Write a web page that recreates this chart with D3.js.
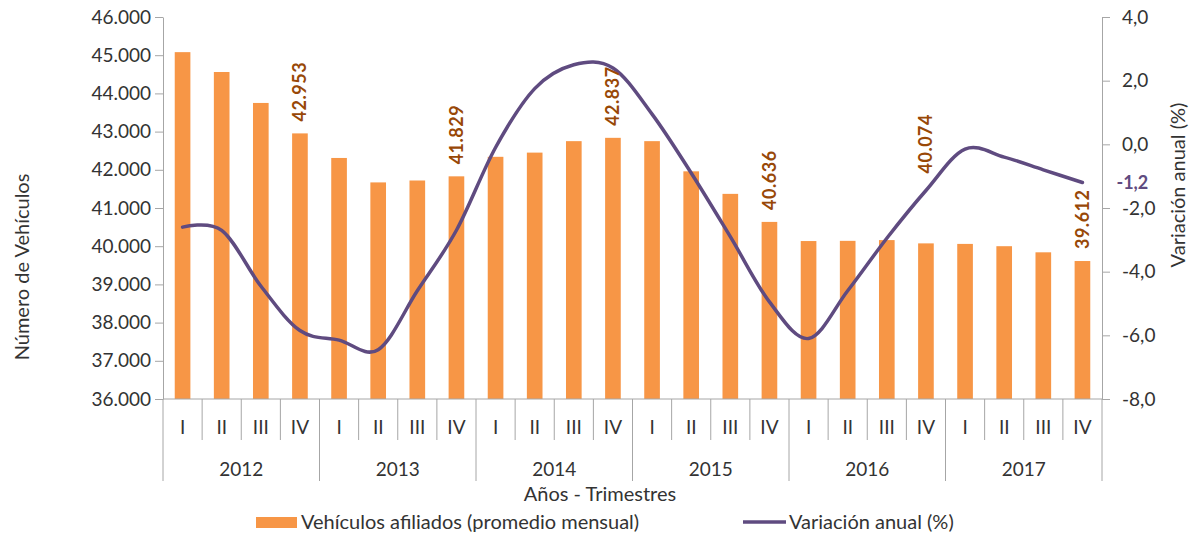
<!DOCTYPE html>
<html><head><meta charset="utf-8">
<script src="https://cdn.jsdelivr.net/npm/d3@7"></script>
<style>
body{margin:0;background:#fff;}
svg text{font-family:Lato,"Open Sans",sans-serif;}
</style></head>
<body><svg id="c" width="1190" height="534"></svg>
<script>
const years = ["2012","2013","2014","2015","2016","2017"];
const quarters = ["I","II","III","IV"];
const vehicles = [45080,44560,43750,42953, 42310,41670,41720,41829, 42340,42450,42750,42837,
                  42750,41960,41370,40636, 40135,40140,40160,40074, 40060,40000,39840,39612];
const variation = [-2.6,-2.7,-4.45,-5.85, -6.15,-6.45,-4.6,-2.7, -0.1,1.75,2.5,2.4,
                   0.95,-0.9,-2.9,-4.95, -6.1,-4.6,-2.95,-1.45, -0.15,-0.4,-0.8,-1.2];
const leftTicks = [36000,37000,38000,39000,40000,41000,42000,43000,44000,45000,46000];
const rightTicks = [-8,-6,-4,-2,0,2,4];
const labelled = ["2012-IV","2013-IV","2014-IV","2015-IV","2016-IV","2017-IV"];

const cats = [];
years.forEach(y => quarters.forEach(q => cats.push(y + "-" + q)));

const loc = d3.formatLocale({decimal:",",thousands:".",grouping:[3],currency:["",""],minus:"-"});
const fmtL = loc.format(",.0f"), fmtR = loc.format(".1f");

const svg = d3.select("#c");
const L = 163, R = 1102, T = 17, B = 399;
const x = d3.scaleBand().domain(cats).range([L, R]).paddingInner(0.6).paddingOuter(0.3);
const step = x.step();
const yL = d3.scaleLinear().domain([36000, 46000]).range([B, T]);
const yR = d3.scaleLinear().domain([-8, 4]).range([B, T]);
const cx = c => x(c) + x.bandwidth() / 2;
const axisCol = "#a6a6a6", txtCol = "#333";
const FS = 19, FT = 20;

// bars
svg.append("g").selectAll("rect").data(cats).join("rect")
  .attr("x", c => x(c)).attr("width", x.bandwidth())
  .attr("y", (c,i) => yL(vehicles[i])).attr("height", (c,i) => B - yL(vehicles[i]))
  .attr("fill", "#f79646");

// left axis
const gl = svg.append("g").attr("transform", `translate(${L},0)`)
  .call(d3.axisLeft(yL).tickValues(leftTicks).tickFormat(fmtL).tickSize(8).tickSizeOuter(0));
gl.select(".domain").attr("stroke", axisCol);
gl.selectAll(".tick line").attr("stroke", axisCol);
gl.selectAll(".tick text").attr("font-size", FS).attr("fill", txtCol).attr("x", -12);

// right axis
const gr = svg.append("g").attr("transform", `translate(${R},0)`)
  .call(d3.axisRight(yR).tickValues(rightTicks).tickFormat(fmtR).tickSize(8).tickSizeOuter(0));
gr.select(".domain").attr("stroke", axisCol);
gr.selectAll(".tick line").attr("stroke", axisCol);
gr.selectAll(".tick text").attr("font-size", FS).attr("fill", txtCol).attr("x", 20);

// category axis (quarters)
const gb = svg.append("g").attr("transform", `translate(0,${B})`)
  .call(d3.axisBottom(x).tickSize(0).tickFormat(c => c.split("-")[1]));
gb.select(".domain").attr("stroke", axisCol).attr("d", `M${L},0H${R}`);
gb.selectAll(".tick text").attr("font-size", FS).attr("fill", txtCol).attr("dy", 0).attr("y", 35);

// separators
const sep = svg.append("g").attr("stroke", axisCol).attr("stroke-width", 1);
cats.forEach((c, i) => {
  const xe = x(c) - step * 0.3;
  const yearStart = i % 4 === 0;
  sep.append("line").attr("x1", xe).attr("x2", xe).attr("y1", B).attr("y2", yearStart ? 481 : 440);
});
sep.append("line").attr("x1", R).attr("x2", R).attr("y1", B).attr("y2", 481);

// year labels
svg.append("g").selectAll("text").data(years).join("text")
  .attr("x", y => (cx(y + "-II") + cx(y + "-III")) / 2)
  .attr("y", 469).attr("dy", "0.35em").attr("text-anchor", "middle")
  .attr("font-size", FS).attr("fill", txtCol).text(y => y);

// line
const line = d3.line().x((d,i) => cx(cats[i])).y(d => yR(d)).curve(d3.curveCatmullRom.alpha(0));
svg.append("path").datum(variation).attr("d", line)
  .attr("fill", "none").attr("stroke", "#5f4b80").attr("stroke-width", 3.5).attr("stroke-linecap","round");

// bar labels
labelled.forEach(c => {
  const i = cats.indexOf(c);
  let yb = yL(vehicles[i]) - 12;
  if (c === "2016-IV") yb = Math.min(yb, yR(variation[i]) - 17);
  svg.append("text")
    .attr("transform", `translate(${cx(c)},${yb}) rotate(-90)`)
    .attr("dy", "0.35em").attr("font-size", 18).attr("font-weight", "bold")
    .attr("fill", "#984807").attr("letter-spacing", 0.5).text(fmtL(vehicles[i]));
});

// last variation label
{
  const i = cats.length - 1;
  svg.append("text").attr("x", cx(cats[i]) + 34).attr("y", yR(variation[i])).attr("dy", "0.35em")
    .attr("font-size", 18).attr("font-weight", "bold").attr("fill", "#5f4b80").text(fmtR(variation[i]));
}

// axis titles
svg.append("text").attr("transform", `translate(22,267) rotate(-90)`)
  .attr("text-anchor", "middle").attr("dy", "0.35em").attr("font-size", FT).attr("fill", txtCol)
  .text("Número de Vehículos");
svg.append("text").attr("transform", `translate(1178,185) rotate(-90)`)
  .attr("text-anchor", "middle").attr("dy", "0.35em").attr("font-size", FT).attr("fill", txtCol)
  .text("Variación anual (%)");
svg.append("text").attr("x", 600).attr("y", 494).attr("dy", "0.35em").attr("text-anchor", "middle")
  .attr("font-size", FT).attr("fill", txtCol).text("Años - Trimestres");

// legend
const lg = svg.append("g");
lg.append("rect").attr("x", 256).attr("y", 517).attr("width", 41).attr("height", 11).attr("fill", "#f79646");
lg.append("text").attr("x", 301).attr("y", 522).attr("dy", "0.35em").attr("font-size", FT).attr("fill", txtCol)
  .text("Vehículos afiliados (promedio mensual)");
lg.append("line").attr("x1", 743).attr("x2", 786).attr("y1", 522).attr("y2", 522)
  .attr("stroke", "#5f4b80").attr("stroke-width", 3.5);
lg.append("text").attr("x", 789).attr("y", 522).attr("dy", "0.35em").attr("font-size", FT).attr("fill", txtCol)
  .text("Variación anual (%)");
</script></body></html>
